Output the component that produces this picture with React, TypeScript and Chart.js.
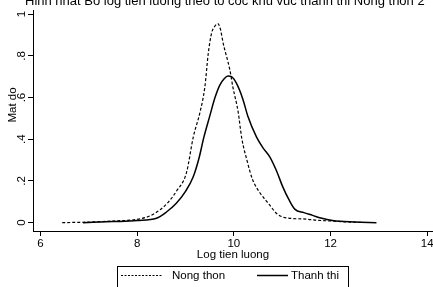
import React, { useEffect, useRef } from "react";
import { Chart, registerables } from "chart.js";

Chart.register(...registerables);

const titleText = "Hinh nhat Bo log tien luong theo to coc khu vuc thanh thi Nong thon 2";
const xTitle = "Log tien luong";
const yTitle = "Mat do";
const xTicks = [6, 8, 10, 12, 14];
const yTicks = [0, 0.2, 0.4, 0.6, 0.8, 1];
const seriesNames = ["Nong thon", "Thanh thi"];

const ruralX = [6.45, 7.0, 7.5, 8.0, 8.26, 8.47, 8.65, 8.81, 9.02, 9.16, 9.3, 9.4, 9.47, 9.54, 9.6, 9.67, 9.72, 9.78, 9.92, 9.98, 10.09, 10.16, 10.27, 10.39, 10.55, 10.74, 10.88, 11.01, 11.2, 11.42, 11.7, 12.0, 12.3, 12.66];
const ruralY = [0.0, 0.003, 0.008, 0.016, 0.032, 0.061, 0.1, 0.15, 0.24, 0.41, 0.53, 0.65, 0.81, 0.91, 0.94, 0.955, 0.93, 0.86, 0.73, 0.65, 0.53, 0.41, 0.3, 0.205, 0.14, 0.085, 0.045, 0.027, 0.02, 0.018, 0.012, 0.008, 0.004, 0.001];

const urbanX = [6.88, 7.5, 8.0, 8.4, 8.6, 8.81, 9.0, 9.16, 9.28, 9.38, 9.5, 9.61, 9.71, 9.8, 9.88, 9.95, 10.05, 10.19, 10.29, 10.47, 10.6, 10.74, 10.88, 11.01, 11.14, 11.26, 11.45, 11.63, 11.8, 12.04, 12.5, 12.95];
const urbanY = [0.0, 0.005, 0.01, 0.021, 0.05, 0.093, 0.15, 0.22, 0.31, 0.41, 0.51, 0.6, 0.66, 0.69, 0.703, 0.7, 0.67, 0.59, 0.51, 0.41, 0.36, 0.317, 0.25, 0.173, 0.11, 0.065, 0.048, 0.035, 0.022, 0.01, 0.003, 0.0];

const FONT = "'Liberation Sans', Arial, sans-serif";

export default function App() {
  const ref = useRef<HTMLCanvasElement | null>(null);

  useEffect(() => {
    if (!ref.current) return;
    const toPts = (xs: number[], ys: number[]) => xs.map((x, i) => ({ x, y: ys[i] }));

    const decor = {
      id: "decor",
      afterDraw(chart: any) {
        const ctx = chart.ctx;
        ctx.save();
        ctx.fillStyle = "#000";
        ctx.strokeStyle = "#000";
        // title (cut off at top)
        ctx.font = `13px ${FONT}`;
        ctx.textAlign = "left";
        ctx.textBaseline = "alphabetic";
        ctx.fillText(titleText, 25, 4.5);
        // y axis title
        ctx.font = `11.5px ${FONT}`;
        ctx.save();
        ctx.translate(13, 105);
        ctx.rotate(-Math.PI / 2);
        ctx.textAlign = "center";
        ctx.textBaseline = "middle";
        ctx.fillText(yTitle, 0, 0);
        ctx.restore();
        // legend box
        ctx.lineWidth = 1;
        ctx.setLineDash([]);
        ctx.strokeRect(117.5, 266.5, 231, 30);
        const ly = 275.5;
        ctx.setLineDash([2, 1.5]);
        ctx.beginPath();
        ctx.moveTo(121, ly);
        ctx.lineTo(163, ly);
        ctx.stroke();
        ctx.setLineDash([]);
        ctx.lineWidth = 1.5;
        ctx.beginPath();
        ctx.moveTo(257, ly);
        ctx.lineTo(288, ly);
        ctx.stroke();
        ctx.textAlign = "left";
        ctx.textBaseline = "middle";
        ctx.fillText(seriesNames[0], 172, ly);
        ctx.fillText(seriesNames[1], 291, ly);
        ctx.restore();
      },
    };

    const chart = new Chart(ref.current, {
      type: "line",
      data: {
        datasets: [
          {
            label: seriesNames[0],
            data: toPts(ruralX, ruralY),
            borderColor: "#000",
            borderWidth: 1.2,
            borderDash: [3, 2],
            pointRadius: 0,
            fill: false,
            cubicInterpolationMode: "monotone",
          },
          {
            label: seriesNames[1],
            data: toPts(urbanX, urbanY),
            borderColor: "#000",
            borderWidth: 1.5,
            pointRadius: 0,
            fill: false,
            cubicInterpolationMode: "monotone",
          },
        ],
      },
      options: {
        responsive: false,
        animation: false,
        devicePixelRatio: 1,
        layout: { padding: { left: 0, right: 0, top: 10, bottom: 25 } },
        plugins: { legend: { display: false }, title: { display: false }, tooltip: { enabled: false } },
        scales: {
          x: {
            type: "linear",
            min: 5.845,
            max: 14.12,
            afterBuildTicks: (s: any) => {
              s.ticks = xTicks.map((v) => ({ value: v }));
            },
            afterFit: (s: any) => {
              s.height = 31;
              s.paddingLeft = 0;
              s.paddingRight = 0;
            },
            grid: { drawOnChartArea: false, drawTicks: true, tickLength: 5, color: "#000", tickColor: "#000" },
            border: { display: true, color: "#000", width: 1 },
            ticks: {
              color: "#000",
              font: { family: FONT, size: 11.5 },
              padding: 1,
              maxRotation: 0,
              minRotation: 0,
              autoSkip: false,
              callback: (v: any) => String(v),
            },
            title: { display: true, text: xTitle, color: "#000", font: { family: FONT, size: 11.5 }, padding: 0 },
          },
          y: {
            type: "linear",
            min: -0.04,
            max: 1.02,
            afterBuildTicks: (s: any) => {
              s.ticks = yTicks.map((v) => ({ value: v }));
            },
            afterFit: (s: any) => {
              s.width = 33;
              s.paddingTop = 0;
              s.paddingBottom = 0;
            },
            grid: { drawOnChartArea: false, drawTicks: true, tickLength: 5, color: "#000", tickColor: "#000" },
            border: { display: true, color: "#000", width: 1 },
            ticks: {
              color: "#000",
              font: { family: FONT, size: 11.5 },
              padding: 1,
              minRotation: 90,
              maxRotation: 90,
              crossAlign: "center",
              autoSkip: false,
              callback: (v: any) => {
                const n = Number(v);
                if (n === 0) return "0";
                if (n === 1) return "1";
                return String(Math.round(n * 10) / 10).replace(/^0/, "");
              },
            },
          },
        },
      },
      plugins: [decor],
    });
    return () => chart.destroy();
  }, []);

  return (
    <div style={{ position: "fixed", left: 0, top: 0, width: 433, height: 287, overflow: "hidden", background: "#fff" }}>
      <canvas ref={ref} width={433} height={287} style={{ display: "block", width: 433, height: 287 }} />
    </div>
  );
}
